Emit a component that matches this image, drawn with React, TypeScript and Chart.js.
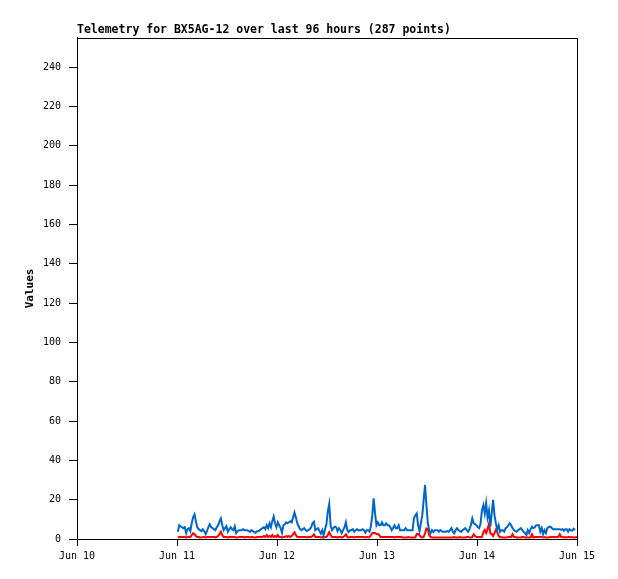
import React, { useEffect, useRef } from "react";
import { Chart, registerables } from "chart.js";

Chart.register(...registerables);

const TITLE = "Telemetry for BX5AG-12 over last 96 hours (287 points)";
const Y_LABEL = "Values";
const X_TICK_LABELS = ["Jun 10", "Jun 11", "Jun 12", "Jun 13", "Jun 14", "Jun 15"];
const START_HOUR = 24.2; // first sample, hours after Jun 10 00:00
const STEP_HOURS = 1 / 3; // 20 minutes

const blueValues = [
  3.7, 7, 6.5, 6, 5.5, 6, 3, 5, 5.5, 4, 8, 11, 12.5, 9, 6, 5, 4.5, 4, 5, 4,
  2.5, 4, 6, 7.5, 6, 5.5, 5, 4.5, 6, 7, 9, 10.5, 7, 4.5, 5.5, 6.5, 3.7, 5, 6, 5,
  4.5, 6.5, 3, 4, 4.5, 4.5, 4.5, 5, 4.5, 4.5, 4.5, 4, 3.7, 4.5, 4, 3.5, 3.2,
  4, 4, 4.5, 5, 5.5, 6, 5, 7, 5.5, 8, 6, 9, 11.5, 8, 6, 8.5, 7, 5.5, 3.2, 7,
  7.5, 8.5, 8, 8.5, 9, 8.5, 11, 13.5, 11, 8, 6.5, 5, 4.5, 5, 5.5, 4.5, 4, 4.5,
  5, 6, 8, 8.8, 4.5, 5, 5.5, 4, 2.7, 4.5, 2, 5, 7.5, 14, 17.8, 7, 4.5, 5.5, 6.3,
  6, 4, 5.5, 4.5, 3, 4.5, 6, 8.5, 4.5, 3.5, 4.5, 4.5, 5, 3.7, 4.5, 5, 4.5, 4.5,
  4.5, 5, 4.5, 3.2, 4.5, 4.5, 3.7, 6.5, 12, 20.7, 13, 7, 8.5, 7, 7, 8.5, 7, 7,
  8, 7, 7, 6, 4.5, 5.5, 7, 5.5, 5.5, 7, 4.5, 4.5, 4.5, 4.5, 5.5, 4.5, 4.5, 4.5,
  4.5, 4.5, 10.5, 12, 13, 7, 4, 8, 12, 20, 27.5, 17, 8, 4.5, 3, 4.5, 3.5, 4.5,
  4.5, 4.5, 3.7, 4.5, 4, 3.7, 3.7, 3.7, 4, 3.7, 4.5, 5.5, 3.7, 2.9, 4.5, 5.5,
  4.5, 4, 3.7, 4.5, 5, 5.5, 4.5, 3.7, 5, 7.1, 10.5, 8, 7.5, 7, 6, 5.5, 8, 14.8,
  17.3, 13, 18.2, 11, 14.5, 6.3, 13, 19.9, 12, 8, 4.6, 7, 3.7, 4.5, 4.5, 3.7,
  5.5, 6, 7, 8, 7, 5.5, 4.5, 4, 3.7, 4.5, 5, 5.5, 4.5, 3.7, 3, 2, 4.5, 3, 5,
  6.3, 5.5, 6, 7, 7, 7, 3.7, 5.5, 2.5, 4.5, 3, 5.5, 6, 6.3, 5.8, 5, 5, 5, 5, 5,
  5, 4.6, 5, 4.2, 5, 5, 3.7, 5, 4.5, 4.2, 5.2, 4.6,
];

const redValues = [
  0.8, 1, 1, 1, 1, 1, 0.8, 1, 1, 1, 2, 2.9, 2.5, 1.5, 1, 1, 0.8, 0.8, 1, 1,
  0.8, 1, 1, 1, 1, 1, 1, 0.8, 1, 1.5, 2.5, 3.7, 2, 1, 1, 1, 0.8, 1, 1, 1,
  1, 1, 0.8, 0.8, 1, 1, 1, 1, 0.8, 1, 1, 1, 0.8, 1, 1, 0.8, 0.8,
  1, 1, 1, 1, 1, 1.5, 1, 2, 1, 1.5, 1, 2, 1, 1.5, 1, 2, 1, 1, 0.8, 1,
  1, 1.5, 1, 1.5, 1, 1.5, 2.5, 3.4, 2, 1, 1, 1, 1, 1, 1, 1, 0.8, 1,
  1, 1, 1.5, 2.4, 1, 1, 1, 1, 0.8, 1, 0.8, 1, 1, 2, 3.4, 2, 1, 1, 1,
  1, 0.8, 1, 1, 0.8, 1, 1.5, 2.4, 1, 0.8, 1, 1, 1, 0.8, 1, 1, 1, 1,
  1, 1, 1, 0.8, 1, 1, 0.8, 2, 3, 3.2, 3, 2.5, 2.5, 2, 1, 1, 1, 1, 1, 1,
  1, 1, 1, 1, 0.8, 1, 1, 1, 1, 1, 0.8, 0.8, 0.8, 0.8, 1, 0.8, 0.8, 0.8,
  0.8, 0.8, 2.5, 2.5, 2, 1, 0.8, 1, 3, 5.4, 5, 2, 1, 0.8, 0.8, 0.8, 0.8, 0.8,
  0.8, 0.8, 0.8, 0.8, 0.8, 0.8, 0.8, 0.8, 0.8, 0.8, 0.8, 1, 0.8, 0.8, 0.8, 1,
  0.8, 0.8, 0.8, 0.8, 1, 1, 0.8, 0.8, 1, 2.4, 1.5, 1, 1, 1, 1, 1, 3.5, 4.6,
  3, 5, 7.6, 3, 2.5, 1.5, 3, 4.6, 3.5, 1.5, 0.8, 1, 0.8, 0.8, 0.8, 0.8,
  1, 1, 1, 2.4, 1, 1, 0.8, 0.8, 0.8, 0.8, 1, 1, 0.8, 0.8, 0.8, 0.8, 0.8, 2.4, 0.8,
  1, 1, 1, 1, 1, 1, 0.8, 1, 0.8, 0.8, 0.8, 1, 1, 1, 1, 1, 1, 1, 2.4, 1,
  1, 0.8, 1, 0.8, 1, 1, 0.8, 1, 0.8, 0.8, 1, 0.8,
];

const MONO = "'DejaVu Sans Mono', 'Liberation Mono', monospace";

const framePlugin = {
  id: "frame",
  afterDatasetsDraw(chart: any) {
    const { ctx, chartArea } = chart;
    ctx.save();
    ctx.strokeStyle = "#000";
    ctx.lineWidth = 1;
    ctx.strokeRect(
      Math.round(chartArea.left) + 0.5,
      Math.round(chartArea.top) + 0.5,
      Math.round(chartArea.right - chartArea.left),
      Math.round(chartArea.bottom - chartArea.top)
    );
    ctx.restore();
  },
};

export default function App() {
  const ref = useRef<HTMLCanvasElement | null>(null);

  useEffect(() => {
    document.body.style.margin = "0";
    document.body.style.background = "#fff";
    const canvas = ref.current;
    if (!canvas) return;
    const toPoints = (arr: number[]) =>
      arr.map((v, i) => ({ x: START_HOUR + i * STEP_HOURS, y: v }));

    const chart = new Chart(canvas, {
      type: "line",
      data: {
        datasets: [
          {
            label: "blue",
            data: toPoints(blueValues),
            borderColor: "#0066cc",
            borderWidth: 2,
            pointRadius: 0,
            tension: 0,
          },
          {
            label: "red",
            data: toPoints(redValues),
            borderColor: "#ff0000",
            borderWidth: 2,
            pointRadius: 0,
            tension: 0,
          },
        ],
      },
      plugins: [framePlugin],
      options: {
        responsive: false,
        animation: false,
        devicePixelRatio: 1,
        layout: { padding: { left: 0, right: 41, top: 0, bottom: 0 } },
        plugins: {
          legend: { display: false },
          tooltip: { enabled: false },
          title: {
            display: true,
            text: TITLE,
            align: "start",
            fullSize: false,
            color: "#000",
            font: { family: MONO, size: 11.5, weight: "bold", lineHeight: 1.2 },
            padding: { top: 23, bottom: 1 },
          },
        },
        scales: {
          x: {
            type: "linear",
            min: 0,
            max: 120,
            afterFit: (scale: any) => {
              scale.height = 40;
            },
            ticks: {
              stepSize: 24,
              color: "#000",
              font: { family: MONO, size: 10 },
              padding: 4,
              maxRotation: 0,
              callback: (v: any) => X_TICK_LABELS[Math.round(Number(v) / 24)] ?? "",
            },
            grid: {
              display: true,
              drawOnChartArea: false,
              drawTicks: true,
              tickLength: 7,
              color: "#000",
            },
            border: { display: true, color: "#000" },
          },
          y: {
            type: "linear",
            min: 0,
            max: 255,
            afterFit: (scale: any) => {
              scale.width = 77;
            },
            ticks: {
              stepSize: 20,
              includeBounds: false,
              color: "#000",
              font: { family: MONO, size: 10 },
              padding: 8,
            },
            grid: {
              display: true,
              drawOnChartArea: false,
              drawTicks: true,
              tickLength: 8,
              color: "#000",
            },
            border: { display: true, color: "#000" },
            title: {
              display: true,
              text: Y_LABEL,
              color: "#000",
              font: { family: MONO, size: 11, weight: "bold" },
              padding: { top: 24, bottom: 0 },
            },
          },
        },
      },
    });
    return () => chart.destroy();
  }, []);

  return (
    <div style={{ width: 618, height: 579, background: "#fff" }}>
      <canvas ref={ref} width={618} height={579} style={{ display: "block" }} />
    </div>
  );
}
